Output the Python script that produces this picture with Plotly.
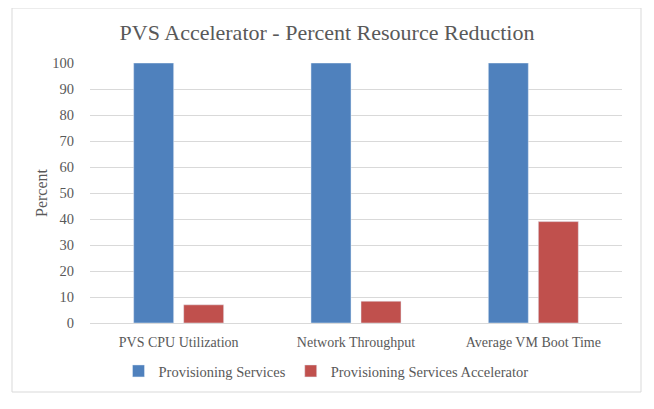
import plotly.graph_objects as go

categories = ["PVS CPU Utilization", "Network Throughput", "Average VM Boot Time"]
pvs_values = [100, 100, 100]
accel_values = [7, 8.4, 39]

font_family = "Liberation Serif"
text_color = "#595959"

fig = go.Figure()
fig.add_bar(x=categories, y=pvs_values, name="Provisioning Services",
            marker=dict(color="#4F81BD"))
fig.add_bar(x=categories, y=accel_values, name="Provisioning Services Accelerator",
            marker=dict(color="#C0504D"))

# page body has an 8px margin, so the figure starts at (8, 8)
OFF = 8
W, H = 654 - 2 * OFF, 409 - 2 * OFF
# plot area in screen pixels: x 90..622, y 63..323
L, R, T, B = 90 - OFF, W - (622 - OFF), 63 - OFF, H - (323 - OFF)
pw, ph = W - L - R, H - T - B

def px(x):
    return (x - OFF - L) / pw

def py(y):
    return (H - B - (y - OFF)) / ph

fig.update_layout(
    width=W, height=H,
    margin=dict(l=L, r=R, t=T, b=B),
    paper_bgcolor="white", plot_bgcolor="white",
    font=dict(family=font_family, color=text_color, size=14),
    title=dict(text="PVS Accelerator - Percent Resource Reduction",
               x=0.5, xanchor="center", y=1 - (32 - OFF) / H, yanchor="middle",
               font=dict(size=22, color=text_color)),
    barmode="group", bargap=0.436, bargroupgap=0.2,
    showlegend=True,
    legend=dict(orientation="h", x=0.5 - 30 / pw, xanchor="center", y=py(371),
                yanchor="middle", font=dict(size=14.5, color=text_color),
                itemwidth=30, traceorder="normal"),
    # invisible ticks are used to push the tick labels away from the plot
    xaxis=dict(showgrid=False, showline=True, linecolor="#D9D9D9",
               ticks="outside", ticklen=6, tickcolor="rgba(0,0,0,0)",
               tickfont=dict(size=14)),
    yaxis=dict(range=[0, 100], dtick=10, showgrid=True, gridcolor="#D9D9D9",
               zeroline=False, ticks="outside", ticklen=12,
               tickcolor="rgba(0,0,0,0)", tickfont=dict(size=14.5),
               title=dict(text="Percent", font=dict(size=16), standoff=0)),
    shapes=[dict(type="rect", xref="paper", yref="paper",
                 x0=px(12), x1=px(641), y0=py(392), y1=py(8),
                 line=dict(color="#D9D9D9", width=1), layer="below")],
)

fig.write_html("out.html")
